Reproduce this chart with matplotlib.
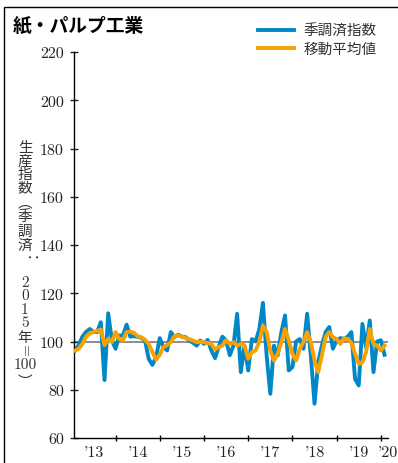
import matplotlib
matplotlib.use("Agg")
import matplotlib.pyplot as plt
import numpy as np
from matplotlib.patches import Rectangle

# Seasonally adjusted production index, monthly from 2013
sa_index = [
    96.3, 98.5, 102.0, 104.0, 105.2, 104.0, 103.9, 108.0, 84.0, 111.7,
    100.5, 97.0, 102.5, 102.5, 107.0, 102.0, 102.2, 102.0, 101.5, 100.4,
    92.8, 90.3, 93.5, 101.4, 97.7, 96.3, 103.9, 101.8, 102.8, 102.0,
    101.8, 100.4, 99.5, 98.3, 100.4, 99.0, 100.7, 96.3, 93.1, 97.9,
    102.0, 100.4, 94.3, 98.3, 111.5, 87.3, 98.3, 88.0, 101.0, 100.0,
    105.0, 116.0, 94.2, 78.3, 98.3, 94.2, 103.9, 110.8, 88.0, 89.4,
    100.0, 101.0, 97.0, 111.5, 94.2, 74.2, 91.4, 98.3, 103.9, 106.0,
    97.0, 100.4, 101.4, 101.1, 102.0, 103.9, 84.5, 81.8, 107.3, 97.5,
    108.7, 87.3, 100.0, 100.5, 94.5,
]
# Moving average
moving_avg = [
    96.3, 97.0, 99.0, 102.0, 103.5, 104.0, 104.3, 105.0, 98.5, 101.1,
    99.7, 103.9, 101.0, 100.4, 103.9, 104.1, 103.6, 102.2, 101.8, 100.7,
    99.0, 95.6, 92.5, 94.5, 97.7, 98.5, 99.7, 102.2, 102.5, 102.0,
    101.4, 101.0, 100.4, 99.7, 99.9, 99.7, 99.4, 99.0, 96.7, 97.7,
    98.3, 100.5, 99.0, 99.7, 98.3, 99.0, 98.3, 92.8, 95.6, 96.3,
    99.7, 106.6, 103.9, 96.3, 92.1, 94.9, 99.7, 105.2, 100.4, 94.9,
    92.1, 97.0, 99.7, 103.9, 99.7, 92.1, 87.3, 94.2, 101.8, 103.9,
    101.8, 101.0, 99.0, 101.4, 101.0, 99.5, 95.0, 90.7, 91.4, 95.6,
    105.2, 99.0, 98.3, 96.3, 98.3,
]
start_year = 2013
year_ticks = [2014, 2015, 2016, 2017, 2018, 2019, 2020]
year_labels = ["'13", "'14", "'15", "'16", "'17", "'18", "'19", "'20"]
y_ticks = [60, 80, 100, 120, 140, 160, 180, 200, 220]

x = start_year + (np.arange(len(sa_index)) + 1) / 12

W, H = 398, 464
fig = plt.figure(figsize=(W / 100, H / 100), dpi=100)
ax = fig.add_axes([74 / W, 1 - 439 / H, 314 / W, 386 / H])

jp = "Noto Sans CJK JP"
blue = "#0088c6"
orange = "#f8a100"

ax.axhline(100, color="#7a7a7a", lw=1.2, zorder=1)
ax.plot(x, sa_index, color=blue, lw=2.8, zorder=2, solid_joinstyle="round", label="季調済指数")
ax.plot(x, moving_avg, color=orange, lw=2.8, zorder=3, solid_joinstyle="round", label="移動平均値")

ax.set_xlim(2013.06, 2020.162)
ax.set_ylim(60, 220)
ax.set_yticks(y_ticks)
ax.set_xticks(year_ticks, [""] * len(year_ticks))
label_pos = [y + 0.5 for y in range(2013, 2020)] + [2020.15]
ax.set_xticks(label_pos, year_labels, minor=True)

for s in ["top", "right"]:
    ax.spines[s].set_visible(False)
for s in ["left", "bottom"]:
    ax.spines[s].set_linewidth(1.0)

ax.tick_params(axis="y", direction="inout", length=5.5, width=1.0, pad=4.5, labelsize=11.5, colors="#222222")
ax.tick_params(axis="x", which="major", direction="inout", length=5, width=1.0)
ax.tick_params(axis="x", which="minor", length=0, pad=5, labelsize=11.5, colors="#222222")
for lbl in ax.get_yticklabels() + ax.get_xticklabels(minor=True):
    lbl.set_fontfamily("cmr10")

# title and legend
fig.text(13 / W, 1 - 26 / H, "紙・パルプ工業", family=jp, fontweight="bold",
         fontsize=13.5, va="center", ha="left")
leg = fig.legend(loc="upper left", bbox_to_anchor=(258 / W, 1 - 25 / H), frameon=False,
                 borderpad=0, borderaxespad=0, handlelength=2.45, handletextpad=0.7,
                 labelspacing=0.25, prop={"family": jp, "size": 10.5})
for t in leg.get_texts():
    t.set_color("#333333")

# vertical y-axis label
ylabel_chars = [
    ("生", 148, 0, jp), ("産", 162, 0, jp), ("指", 175, 0, jp), ("数", 188, 0, jp),
    ("︵", 203, 0, jp), ("季", 217, 0, jp), ("調", 232, 0, jp), ("済", 246, 0, jp),
    ("：", 262, -90, jp), ("2", 283, 0, "cmr10"), ("0", 296.5, 0, "cmr10"),
    ("1", 310, 0, "cmr10"), ("5", 323.5, 0, "cmr10"), ("年", 338, 0, jp),
    ("=", 350, -90, "cmr10"), ("100", 365, 0, "cmr10"), ("︶", 382, 0, jp),
]
for ch, yc, rot, fam in ylabel_chars:
    size = 10.5 if fam == jp else 11
    fig.text(25 / W, 1 - yc / H, ch, family=fam, fontsize=size, rotation=rot,
             ha="center", va="center", color="#333333")

# outer frame
fig.add_artist(Rectangle((4 / W, -0.1), 1.2, 1.1 - 8 / H, transform=fig.transFigure,
                         fill=False, ec="black", lw=1.0))

fig.savefig("out.png", dpi=100)
